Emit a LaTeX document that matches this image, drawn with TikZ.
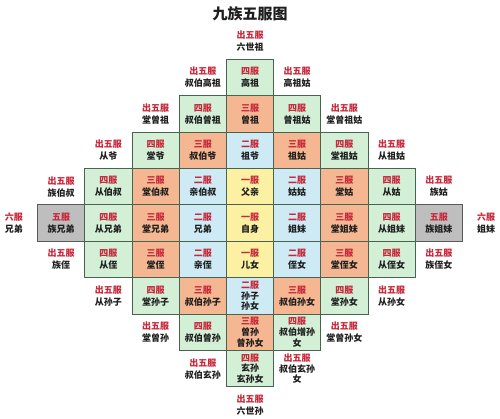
\documentclass[tikz,border=0pt]{standalone}
\usepackage{fontspec}
\setmainfont{Noto Sans CJK SC}
\definecolor{fured}{HTML}{C8283A}
\definecolor{txtdark}{HTML}{1E1E1E}
\definecolor{cgreen}{HTML}{D3EFD6}
\definecolor{corange}{HTML}{F5B791}
\definecolor{cblue}{HTML}{CDEAF5}
\definecolor{cyellow}{HTML}{FCF1A2}
\definecolor{cgray}{HTML}{BEBEBE}
\definecolor{cborder}{HTML}{4A6350}
\tikzset{
  cellbox/.style={rectangle, draw=cborder, line width=0.9pt, minimum width=47.2pt, minimum height=36.4pt, inner sep=0pt, align=center, font=\fontsize{9}{12}\selectfont\bfseries, text=txtdark},
  tallcell/.style={font=\fontsize{9}{10.6}\selectfont\bfseries},
  outlbl/.style={inner sep=0pt, align=center, font=\fontsize{9}{12}\selectfont\bfseries, text=txtdark},
  titlelbl/.style={inner sep=0pt, font=\fontsize{15}{16}\selectfont\bfseries, text=txtdark}
}
\newcommand\mkcell[6]{\node[cellbox,fill=#3] (#4) at ({250+47.2*(#1)},{-223-36.4*(#2)}) {\textcolor{fured}{#5}\\#6};}
\newcommand\mktall[6]{\node[cellbox,tallcell,fill=#3] (#4) at ({250+47.2*(#1)},{-223-36.4*(#2)}) {\textcolor{fured}{#5}\\#6};}
\newcommand\mkout[5]{\node[outlbl] (#3) at ({250+47.2*(#1)},{-223-36.4*(#2)}) {\textcolor{fured}{#4}\\#5};}
\begin{document}
\begin{tikzpicture}[x=1pt,y=1pt]
\useasboundingbox[fill=white] (0,0) rectangle (500,-419);
\node[titlelbl] (title) at (250,-14) {九族五服图};
% row -5
\mkout{0}{-5}{o05}{出五服}{六世祖}
% row -4
\mkcell{0}{-4}{cgreen}{c04}{四服}{高祖}
\mkout{-1}{-4}{o14}{出五服}{叔伯高祖}
\mkout{1}{-4}{o24}{出五服}{高祖姑}
% row -3
\mkcell{-1}{-3}{cgreen}{c13}{四服}{叔伯曾祖}
\mkcell{0}{-3}{corange}{c03}{三服}{曾祖}
\mkcell{1}{-3}{cgreen}{c23}{四服}{曾祖姑}
\mkout{-2}{-3}{o13}{出五服}{堂曾祖}
\mkout{2}{-3}{o23}{出五服}{堂曾祖姑}
% row -2
\mkcell{-2}{-2}{cgreen}{c32}{四服}{堂爷}
\mkcell{-1}{-2}{corange}{c12}{三服}{叔伯爷}
\mkcell{0}{-2}{cblue}{c02}{二服}{祖爷}
\mkcell{1}{-2}{corange}{c22}{三服}{祖姑}
\mkcell{2}{-2}{cgreen}{c42}{四服}{堂祖姑}
\mkout{-3}{-2}{o12}{出五服}{从爷}
\mkout{3}{-2}{o22}{出五服}{从祖姑}
% row -1
\mkcell{-3}{-1}{cgreen}{l31}{四服}{从伯叔}
\mkcell{-2}{-1}{corange}{l21}{三服}{堂伯叔}
\mkcell{-1}{-1}{cblue}{l11}{二服}{亲伯叔}
\mkcell{0}{-1}{cyellow}{c01}{一服}{父亲}
\mkcell{1}{-1}{cblue}{r11}{二服}{姑姑}
\mkcell{2}{-1}{corange}{r21}{三服}{堂姑}
\mkcell{3}{-1}{cgreen}{r31}{四服}{从姑}
\mkout{-4}{-1}{o11}{出五服}{族伯叔}
\mkout{4}{-1}{o21}{出五服}{族姑}
% row 0
\node[cellbox,fill=cgray,draw=black!65] (l40) at ({250+47.2*(-4)},-223) {\textcolor{fured}{五服}\\族兄弟};
\mkcell{-3}{0}{cgreen}{l30}{四服}{从兄弟}
\mkcell{-2}{0}{corange}{l20}{三服}{堂兄弟}
\mkcell{-1}{0}{cblue}{l10}{二服}{兄弟}
\mkcell{0}{0}{cyellow}{c00}{一服}{自身}
\mkcell{1}{0}{cblue}{r10}{二服}{姐妹}
\mkcell{2}{0}{corange}{r20}{三服}{堂姐妹}
\mkcell{3}{0}{cgreen}{r30}{四服}{从姐妹}
\node[cellbox,fill=cgray,draw=black!65] (r40) at ({250+47.2*4},-223) {\textcolor{fured}{五服}\\族姐妹};
\mkout{-5}{0}{o10}{六服}{兄弟}
\mkout{5}{0}{o20}{六服}{姐妹}
% row 1
\mkcell{-3}{1}{cgreen}{l3p1}{四服}{从侄}
\mkcell{-2}{1}{corange}{l2p1}{三服}{堂侄}
\mkcell{-1}{1}{cblue}{l1p1}{二服}{亲侄}
\mkcell{0}{1}{cyellow}{c0p1}{一服}{儿女}
\mkcell{1}{1}{cblue}{r1p1}{二服}{侄女}
\mkcell{2}{1}{corange}{r2p1}{三服}{堂侄女}
\mkcell{3}{1}{cgreen}{r3p1}{四服}{从侄女}
\mkout{-4}{1}{o1p1}{出五服}{族侄}
\mkout{4}{1}{o2p1}{出五服}{族侄女}
% row 2
\mkcell{-2}{2}{cgreen}{l2p2}{四服}{堂孙子}
\mkcell{-1}{2}{corange}{l1p2}{三服}{叔伯孙子}
\mktall{0}{2}{cblue}{c0p2}{二服}{孙子\\孙女}
\mkcell{1}{2}{corange}{r1p2}{三服}{叔伯孙女}
\mkcell{2}{2}{cgreen}{r2p2}{四服}{堂孙女}
\mkout{-3}{2}{o1p2}{出五服}{从孙子}
\mkout{3}{2}{o2p2}{出五服}{从孙女}
% row 3
\mkcell{-1}{3}{cgreen}{l1p3}{四服}{叔伯曾孙}
\mktall{0}{3}{corange}{c0p3}{三服}{曾孙\\曾孙女}
\mktall{1}{3}{cgreen}{r1p3}{四服}{叔伯增孙\\女}
\mkout{-2}{3}{o1p3}{出五服}{堂曾孙}
\mkout{2}{3}{o2p3}{出五服}{堂曾孙女}
% row 4
\mktall{0}{4}{cgreen}{c0p4}{四服}{玄孙\\玄孙女}
\mkout{-1}{4}{o1p4}{出五服}{叔伯玄孙}
\node[outlbl,font=\fontsize{9}{10.6}\selectfont\bfseries] (o2p4) at ({250+47.2},{-223-36.4*4}) {\textcolor{fured}{出五服}\\叔伯玄孙\\女};
% row 5
\mkout{0}{5}{o0p5}{出五服}{六世孙}
\end{tikzpicture}
\end{document}
